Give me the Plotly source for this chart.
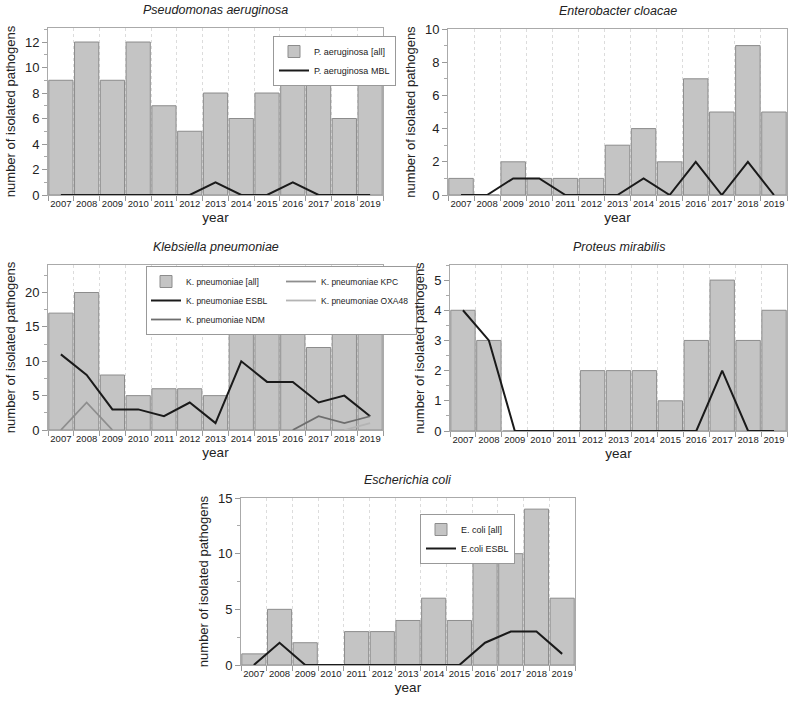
import plotly.graph_objects as go

years = list(range(2007, 2020))

# Pseudomonas aeruginosa
pa_all = [9, 12, 9, 12, 7, 5, 8, 6, 8, 9, 9, 6, 11]
pa_mbl = [0, 0, 0, 0, 0, 0, 1, 0, 0, 1, 0, 0, 0]

# Enterobacter cloacae
ec_all = [1, 0, 2, 1, 1, 1, 3, 4, 2, 7, 5, 9, 5]
ec_line = [0, 0, 1, 1, 0, 0, 0, 1, 0, 2, 0, 2, 0]

# Klebsiella pneumoniae
kp_all = [17, 20, 8, 5, 6, 6, 5, 22, 14, 21, 12, 14, 18]
kp_esbl = [11, 8, 3, 3, 2, 4, 1, 10, 7, 7, 4, 5, 2]
kp_ndm = [None, None, None, None, None, None, None, None, None, 0, 2, 1, 2]
kp_kpc = [0, 4, 0, None, None, None, None, None, None, None, None, None, None]
kp_oxa = [None, None, None, None, None, None, None, None, None, None, None, 0, 1]

# Proteus mirabilis
pm_all = [4, 3, 0, 0, 0, 2, 2, 2, 1, 3, 5, 3, 4]
pm_line = [4, 3, 0, 0, 0, 0, 0, 0, 0, 0, 2, 0, 0]

# Escherichia coli
eco_all = [1, 5, 2, 0, 3, 3, 4, 6, 4, 11, 10, 14, 6]
eco_esbl = [0, 2, 0, 0, 0, 0, 0, 0, 0, 2, 3, 3, 1]

W, H = 798, 701
FONT = "Liberation Sans, Arial, sans-serif"
BAR_FILL = "#c4c4c4"
BAR_EDGE = "#8c8c8c"


def px(x):
    return x / W


def py(y):
    return 1 - y / H


fig = go.Figure()


def bars(name, vals, n, legend=None):
    fig.add_trace(go.Bar(
        x=years, y=vals, name=name, xaxis="x%d" % n, yaxis="y%d" % n,
        marker=dict(color=BAR_FILL, line=dict(color=BAR_EDGE, width=1)),
        showlegend=legend is not None, legend=legend or "legend",
        legendgroup="a" if legend == "legend2" else None,
    ))


def line(name, vals, n, color, width=2, legend=None, group=None):
    fig.add_trace(go.Scatter(
        x=years, y=vals, name=name, mode="lines", xaxis="x%d" % n, yaxis="y%d" % n,
        line=dict(color=color, width=width), connectgaps=False,
        showlegend=legend is not None, legend=legend or "legend",
        legendgroup=group,
    ))


bars("P. aeruginosa [all]", pa_all, 1, "legend")
line("P. aeruginosa MBL", pa_mbl, 1, "#1a1a1a", legend="legend")

bars("E. cloacae [all]", ec_all, 2)
line("E. cloacae", ec_line, 2, "#1a1a1a")

bars("K. pneumoniae [all]", kp_all, 3, "legend2")
line("K. pneumoniae ESBL", kp_esbl, 3, "#1a1a1a", legend="legend2", group="a")
line("K. pneumoniae NDM", kp_ndm, 3, "#6e6e6e", 1.8, legend="legend2", group="a")
line("K. pneumoniae KPC", kp_kpc, 3, "#8e8e8e", 1.8, legend="legend2", group="b")
line("K. pneumoniae OXA48", kp_oxa, 3, "#b4b4b4", 1.8, legend="legend2", group="b")

bars("P. mirabilis [all]", pm_all, 4)
line("P. mirabilis", pm_line, 4, "#1a1a1a")

bars("E. coli [all]", eco_all, 5, "legend3")
line("E.coli ESBL", eco_esbl, 5, "#1a1a1a", legend="legend3")

# panel boxes in window pixels: (left, right, top, bottom)
boxes = {
    1: (48, 383, 28, 195),
    2: (448, 787, 29, 195),
    3: (48, 383, 265, 430),
    4: (450, 787, 265, 431),
    5: (241, 575, 498, 665),
}
yranges = {1: (13.1, 2), 2: (10, 2), 3: (24, 5), 4: (5.5, 1), 5: (15, 5)}
titles = {
    1: "Pseudomonas aeruginosa",
    2: "Enterobacter cloacae",
    3: "Klebsiella pneumoniae",
    4: "Proteus mirabilis",
    5: "Escherichia coli",
}

layout = dict(
    width=W, height=H, margin=dict(l=0, r=0, t=0, b=0),
    paper_bgcolor="white", plot_bgcolor="white",
    font=dict(family=FONT, color="#222", size=12),
    bargap=0.06, annotations=[],
)

for n, (l, r, t, b) in boxes.items():
    top, dt = yranges[n]
    layout["xaxis%d" % n] = dict(
        domain=[px(l), px(r)], anchor="y%d" % n, range=[2006.5, 2019.5],
        tickvals=years, ticktext=[str(v) for v in years], ticks="",
        tickfont=dict(size=9.5), showgrid=False, zeroline=False,
        showline=True, linecolor="#aaaaaa", mirror=True, automargin=False,
        minor=dict(tick0=2006.5, dtick=1, ticks="outside", ticklen=5,
                   tickcolor="#999", showgrid=True, griddash="dot",
                   gridcolor="#dcdcdc", gridwidth=1),
        title=dict(text="year", font=dict(size=13.5), standoff=4),
    )
    layout["yaxis%d" % n] = dict(
        domain=[py(b), py(t)], anchor="x%d" % n, range=[0, top],
        dtick=dt, ticks="outside", ticklen=5, tickcolor="#999",
        tickfont=dict(size=13), showgrid=False, zeroline=False,
        showline=True, linecolor="#aaaaaa", mirror=True, automargin=False,
        minor=dict(dtick=dt / 2, ticks="outside", ticklen=3, tickcolor="#aaa"),
        title=dict(text="number of isolated pathogens", font=dict(size=13), standoff=6),
    )
    layout["annotations"].append(dict(
        text="<i>%s</i>" % titles[n], x=px((l + r) / 2), y=py(t - 18),
        xref="paper", yref="paper", showarrow=False, font=dict(size=12.5),
        xanchor="center", yanchor="middle",
    ))

leg_style = dict(bgcolor="white", bordercolor="#999", borderwidth=1,
                 font=dict(size=9), xanchor="left", yanchor="top",
                 xref="paper", yref="paper", itemwidth=30, tracegroupgap=0)
layout["legend"] = dict(leg_style, x=px(273), y=py(36))
layout["legend2"] = dict(leg_style, x=px(146), y=py(266),
                         orientation="h", traceorder="grouped",
                         font=dict(size=8.5), entrywidth=90, entrywidthmode="pixels")
layout["legend3"] = dict(leg_style, x=px(420), y=py(514))

fig.update_layout(**layout)
# drop the default 8px body margin so the figure sits at the window corner
fig.write_html("out.html", config={"displayModeBar": False},
               post_script="document.body.style.margin='0';")
